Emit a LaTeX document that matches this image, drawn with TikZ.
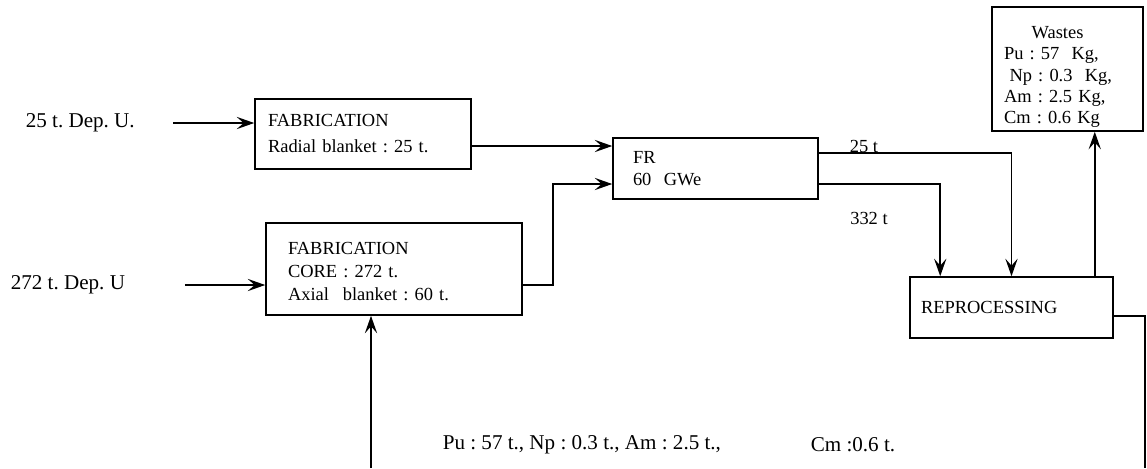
\documentclass[tikz,border=0pt]{standalone}
\usepackage{fontspec}
\setmainfont{Liberation Serif}
\usetikzlibrary{arrows.meta,positioning}
\frenchspacing

\begin{document}
\begin{tikzpicture}[x=0.02cm,y=-0.02cm,line width=0.9pt]
\tikzstyle{box} = [draw, inner xsep=0pt, inner ysep=0pt, align=left, font=\fontsize{10.5}{12.6}\selectfont]
\tikzstyle{lbl} = [inner sep=0pt, font=\fontsize{12}{14}\selectfont]
\tikzstyle{small} = [inner sep=0pt, font=\fontsize{10.5}{12.6}\selectfont]
\tikzstyle{flow} = [-{Stealth[length=10pt,width=7pt,inset=4pt]}]
\useasboundingbox (0,0) rectangle (1147,468);
% boxes
\node[box, minimum width=4.32cm, minimum height=1.4cm, text width=3.8cm] (fab1) at (363,134)
	{FABRICATION\\[2.2pt]Radial blanket : 25 t.};
\node[box, minimum width=5.12cm, minimum height=1.84cm, text width=4.24cm] (fab2) at (394,269)
	{\rule{0pt}{10pt}FABRICATION\\[0.6pt]CORE : 272 t.\\[0.6pt]Axial\hspace{0.75em}blanket : 60 t.};
\node[box, minimum width=4.1cm, minimum height=1.22cm, text width=3.3cm] (fr) at (715.5,168.5)
	{FR\\60\ \ GWe};
\node[box, minimum width=3.02cm, minimum height=2.48cm, text width=2.54cm,
	font=\fontsize{10.5}{12.2}\selectfont] (wastes) at (1067.5,69)
	{\rule{0pt}{16pt}\hspace*{1.5em}Wastes\\Pu : 57\ \ Kg,\\\hspace*{0.3em}Np : 0.3\ \ Kg,\\Am : 2.5 Kg,\\Cm : 0.6 Kg};
\node[box, minimum width=4.06cm, minimum height=1.22cm, text width=3.62cm] (reproc) at (1011.5,307.5)
	{REPROCESSING};
% texts
\node[lbl, anchor=west] (dep1) at (25,123) {25 t. Dep. U.};
\node[lbl, anchor=west] (dep2) at (10,285) {272 t. Dep. U};
\node[small] (t25) at (864,146) {25 t};
\node[small] (t332) at (869,218) {332 t};
\node[lbl, anchor=west] (recyc) at (442,445) {Pu : 57 t., Np : 0.3 t., Am : 2.5 t.,};
\node[lbl, anchor=west] (cmrec) at (810,445) {Cm :0.6 t.};
% connectors
\coordinate (fabout) at ([yshift=-0.24cm]fab1.east);
\coordinate (coreout) at ([yshift=-0.32cm]fab2.east);
\coordinate (frin) at ([yshift=-0.31cm]fr.west);
\coordinate (frout1) at ([yshift=0.31cm]fr.east);
\coordinate (frout2) at ([yshift=-0.31cm]fr.east);
\coordinate (wasteout) at ([xshift=-0.38cm]reproc.north east);
\coordinate (recout) at ([yshift=-0.17cm]reproc.east);
\coordinate (cutR) at (1145,468);
\coordinate (cutL) at (371,468);
\draw[flow] ([xshift=0.76cm]dep1.east) -- (fab1.west |- dep1);
\draw[flow] ([xshift=1.18cm]dep2.east) -- (fab2.west |- dep2);
\draw[flow] (fabout) -- (fabout -| fr.west);
\draw[flow] (coreout) -- ++(30,0) |- (frin);
\draw[flow] (frout1) -| (reproc.north);
\draw[flow] (frout2) -| ([xshift=0.62cm]reproc.north west);
\draw[flow] (wasteout) -- (wasteout |- wastes.south);
\draw (recout) -| (cutR);
\draw[flow] (cutL) -- (cutL |- fab2.south);
\end{tikzpicture}
\end{document}
